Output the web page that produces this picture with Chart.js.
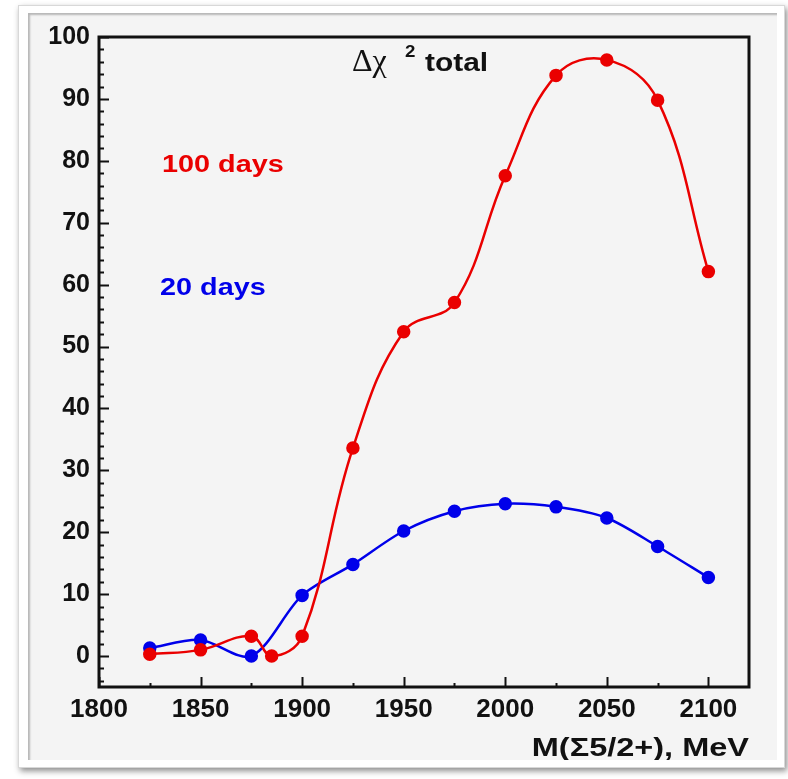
<!DOCTYPE html>
<html>
<head>
<meta charset="utf-8">
<script src="https://cdn.jsdelivr.net/npm/chart.js@4.4.1/dist/chart.umd.min.js"></script>
<style>
  html, body { margin: 0; padding: 0; background: #ffffff; width: 788px; height: 779px; overflow: hidden; }
  #frame {
    position: absolute; left: 18px; top: 5px; width: 765px; height: 761px;
    background: #ffffff; border: 1px solid #d8d8d8;
    box-shadow: 2px 3px 6px rgba(0,0,0,0.45);
  }
  #panel {
    position: absolute; left: 28px; top: 13px; width: 749px; height: 747px;
    background: #f4f4f4;
    box-shadow: inset 2px 2px 2px rgba(0,0,0,0.25);
  }
</style>
</head>
<body>
<div id="frame"></div>
<div id="panel"><canvas id="c"></canvas></div>
<script>
// Mass hypotheses (MeV) and delta chi-square for two exposure times
const massRed = [1825, 1850, 1875, 1885, 1900, 1925, 1950, 1975, 2000, 2025, 2050, 2075, 2100];
const chi2_100days = [0.3, 1.0, 3.2, 0.0, 3.2, 33.6, 52.4, 57.1, 77.6, 93.8, 96.3, 89.8, 62.1];
const massBlue = [1825, 1850, 1875, 1900, 1925, 1950, 1975, 2000, 2025, 2050, 2075, 2100];
const chi2_20days = [1.3, 2.6, 0.0, 9.8, 14.8, 20.2, 23.4, 24.6, 24.1, 22.3, 17.7, 12.7];
const xTicks = [1800, 1850, 1900, 1950, 2000, 2050, 2100];
const yTicks = [0, 10, 20, 30, 40, 50, 60, 70, 80, 90, 100];

const RED = '#ea0000';
const BLUE = '#0000ea';
const FONT = '"Liberation Sans", Arial, Helvetica, sans-serif';

function pts(xs, ys) { return xs.map((x, i) => ({ x: x, y: ys[i] })); }

// Draws the frame, inward-pointing ticks and the free text labels
const framePlugin = {
  id: 'rootFrame',
  afterDraw(chart) {
    const ctx = chart.ctx;
    const a = chart.chartArea;
    const xs = chart.scales.x, ys = chart.scales.y;
    ctx.save();
    ctx.strokeStyle = '#111';
    // ticks on y axis (major every 10, minor every 2)
    ctx.lineWidth = 2;
    for (let v = -4; v <= 100; v += 2) {
      const py = Math.round(ys.getPixelForValue(v)) + 0.5;
      const len = (v % 10 === 0) ? 10 : 5;
      ctx.beginPath(); ctx.moveTo(a.left, py); ctx.lineTo(a.left + len, py); ctx.stroke();
    }
    // ticks on x axis (major every 50, minor every 25)
    for (let v = 1800; v <= 2120; v += 25) {
      const px = Math.round(xs.getPixelForValue(v)) + 0.5;
      const len = (v % 50 === 0) ? 10 : 4;
      ctx.beginPath(); ctx.moveTo(px, a.bottom); ctx.lineTo(px, a.bottom - len); ctx.stroke();
    }
    // box
    ctx.lineWidth = 3;
    ctx.strokeRect(a.left, a.top, a.right - a.left, a.bottom - a.top);

    // labels
    function stretched(text, x, y, sx, color, font, align) {
      ctx.save();
      ctx.font = font; ctx.fillStyle = color; ctx.textBaseline = 'alphabetic';
      const w = ctx.measureText(text).width * sx;
      const x0 = align === 'right' ? x - w : x;
      ctx.translate(x0, y); ctx.scale(sx, 1);
      ctx.textAlign = 'left';
      ctx.fillText(text, 0, 0);
      ctx.restore();
    }
    stretched('100 days', 134, 159, 1.2, RED, 'bold 24px ' + FONT, 'left');
    stretched('20 days', 132, 282, 1.2, BLUE, 'bold 24px ' + FONT, 'left');
    // Δχ² total
    stretched('Δχ', 324, 58, 1.0, '#111', '32px "Liberation Serif", "DejaVu Serif", serif', 'left');
    stretched('2', 377, 44, 1.1, '#111', 'bold 17px ' + FONT, 'left');
    stretched('total', 397, 58, 1.15, '#111', 'bold 26px ' + FONT, 'left');
    // axis title
    stretched('M(Σ5/2+), MeV', a.right, 743, 1.25, '#111', 'bold 26px ' + FONT, 'right');
    ctx.restore();
  }
};

new Chart(document.getElementById('c'), {
  type: 'line',
  data: {
    datasets: [
      {
        label: '100 days',
        data: pts(massRed, chi2_100days),
        borderColor: RED, backgroundColor: RED,
        borderWidth: 2.5, pointRadius: 5.5, pointHoverRadius: 5.5,
        tension: 0.4, fill: false
      },
      {
        label: '20 days',
        data: pts(massBlue, chi2_20days),
        borderColor: BLUE, backgroundColor: BLUE,
        borderWidth: 2.5, pointRadius: 5.5, pointHoverRadius: 5.5,
        tension: 0.3, fill: false
      }
    ]
  },
  options: {
    responsive: true,
    maintainAspectRatio: false,
    animation: false,
    layout: { padding: { left: 0, top: 22, right: 28, bottom: 0 } },
    plugins: { legend: { display: false }, tooltip: { enabled: false }, title: { display: false } },
    scales: {
      x: {
        type: 'linear', min: 1800, max: 2120,
        grid: { display: false, drawTicks: false },
        border: { display: false },
        afterBuildTicks: s => { s.ticks = xTicks.map(v => ({ value: v })); },
        afterFit: s => { s.height = 73; },
        ticks: {
          color: '#111', font: { family: FONT, size: 26, weight: 'bold' }, padding: 7, maxRotation: 0,
          callback: v => String(v)
        }
      },
      y: {
        type: 'linear', min: -5, max: 100,
        grid: { display: false, drawTicks: false },
        border: { display: false },
        afterBuildTicks: s => { s.ticks = yTicks.map(v => ({ value: v })); },
        afterFit: s => { s.width = 71; },
        ticks: { color: '#111', font: { family: FONT, size: 25, weight: 'bold' }, padding: 9, callback: v => String(v) }
      }
    }
  },
  plugins: [framePlugin]
});
</script>
</body>
</html>
